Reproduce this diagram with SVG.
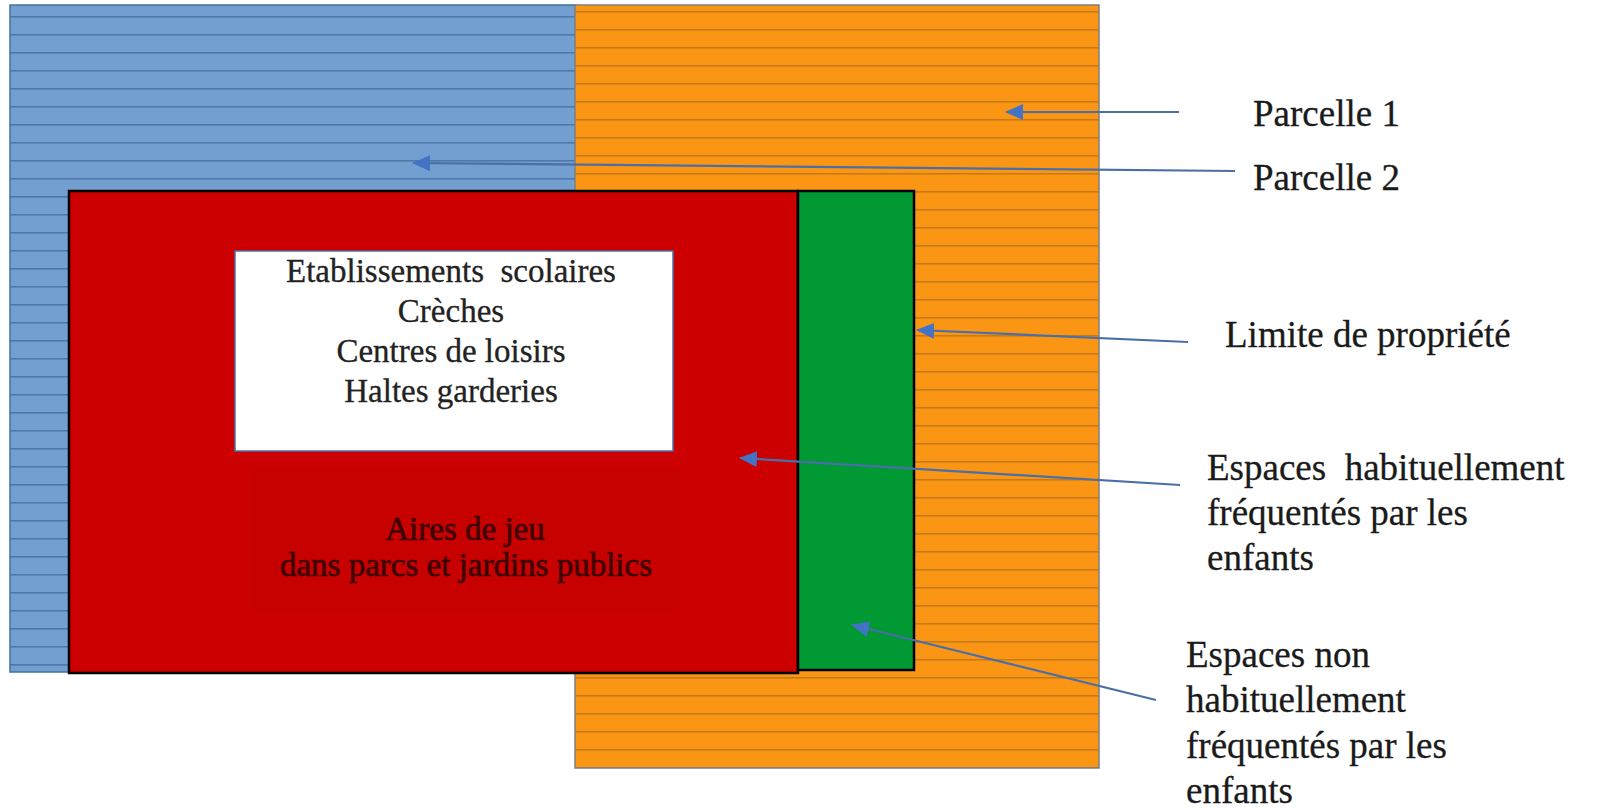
<svg xmlns="http://www.w3.org/2000/svg" width="1599" height="808" viewBox="0 0 1599 808">
<style>
.lbl{font-family:"Liberation Serif","Times New Roman",serif;font-size:37px;fill:#1a1a1a;stroke:#1a1a1a;stroke-width:0.3}
.box{font-family:"Liberation Serif","Times New Roman",serif;font-size:33px;fill:#222;stroke:#222;stroke-width:0.3;text-anchor:middle}
.aire{font-family:"Liberation Serif","Times New Roman",serif;font-size:33px;fill:#3d0000;stroke:#3d0000;stroke-width:0.6;text-anchor:middle}
.conn{stroke:#4a6fa8;stroke-width:2.2;fill:none;marker-end:url(#ah)}
</style>
<defs>
<pattern id="blueStripe" patternUnits="userSpaceOnUse" x="0" y="16" width="20" height="18">
<rect width="20" height="18" fill="#729fd0"/>
<rect y="0" width="20" height="1.6" fill="#4f78a8"/>
</pattern>
<pattern id="orangeStripe" patternUnits="userSpaceOnUse" x="0" y="11" width="20" height="18">
<rect width="20" height="18" fill="#fb9614"/>
<rect y="0" width="20" height="1.6" fill="#c67a1a"/>
</pattern>
<marker id="ah" markerUnits="userSpaceOnUse" markerWidth="18" markerHeight="16" refX="17" refY="8" orient="auto">
<path d="M0,0 L18,8 L0,16 Z" fill="#4472c4"/>
</marker>
</defs>
<g id="parcelle2">
<rect x="10" y="5" width="566" height="667" fill="url(#blueStripe)" stroke="#41719c" stroke-width="1.5"/>
</g>
<g id="parcelle1">
<rect x="575" y="5" width="524" height="763" fill="url(#orangeStripe)" stroke="#7f7f7f" stroke-width="1.5"/>
</g>
<g id="espaces-habituels">
<rect x="69" y="191" width="729" height="482" fill="#cc0000" stroke="#000" stroke-width="2.5"/>
<rect x="250" y="470" width="430" height="140" fill="#c70000"/>
<text class="aire" x="465" y="540">Aires de jeu</text>
<text class="aire" x="466" y="576">dans parcs et jardins publics</text>
</g>
<g id="espaces-non-habituels">
<rect x="798" y="191" width="116" height="479" fill="#009933" stroke="#000" stroke-width="2.5"/>
</g>
<g id="etablissements">
<rect x="235" y="251" width="438" height="200" fill="#fff" stroke="#4a6fa8" stroke-width="1.5"/>
<text class="box" x="451" y="282" xml:space="preserve">Etablissements  scolaires</text>
<text class="box" x="451" y="322">Crèches</text>
<text class="box" x="451" y="362">Centres de loisirs</text>
<text class="box" x="451" y="402">Haltes garderies</text>
</g>
<g id="connectors">
<line class="conn" x1="1179" y1="112" x2="1006" y2="112"/>
<line class="conn" x1="1235" y1="171" x2="413" y2="163"/>
<line class="conn" x1="1188" y1="342" x2="917" y2="330"/>
<line class="conn" x1="1180" y1="485" x2="740" y2="458"/>
<line class="conn" x1="1156" y1="700" x2="852" y2="625"/>
</g>
<g id="labels">
<text class="lbl" x="1253" y="126">Parcelle 1</text>
<text class="lbl" x="1253" y="190">Parcelle 2</text>
<text class="lbl" x="1225" y="347">Limite de propriété</text>
<text class="lbl" x="1207" y="480" xml:space="preserve">Espaces  habituellement</text>
<text class="lbl" x="1207" y="525">fréquentés par les</text>
<text class="lbl" x="1207" y="570">enfants</text>
<text class="lbl" x="1186" y="667">Espaces non</text>
<text class="lbl" x="1186" y="712">habituellement</text>
<text class="lbl" x="1186" y="758">fréquentés par les</text>
<text class="lbl" x="1186" y="803">enfants</text>
</g>
</svg>
